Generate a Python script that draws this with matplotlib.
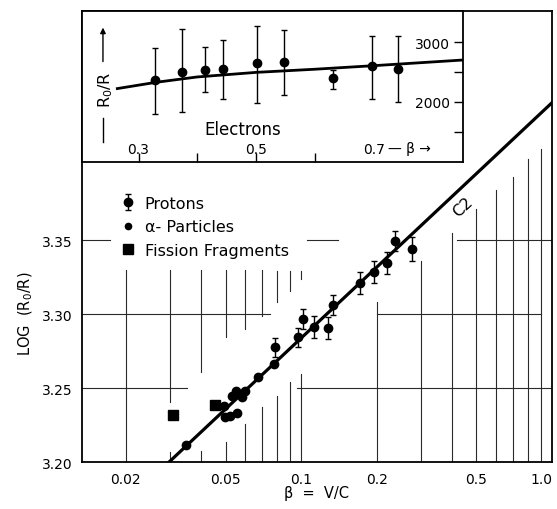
import matplotlib
matplotlib.use('Agg')
import matplotlib.pyplot as plt
from matplotlib.ticker import NullLocator

# ---------------- main panel data ----------------
proton_beta = [0.0788, 0.0976, 0.1021, 0.1130, 0.1277, 0.1337, 0.1718, 0.196, 0.2208, 0.2368, 0.276]
proton_logR = [3.2775, 3.2843, 3.2967, 3.2911, 3.2906, 3.3064, 3.3210, 3.3286, 3.3345, 3.3492, 3.3440]
proton_err = [0.0066, 0.0064, 0.0068, 0.0074, 0.0074, 0.0068, 0.0074, 0.0074, 0.0074, 0.0068, 0.0081]

alpha_beta = [0.0348, 0.0498, 0.0522, 0.0557, 0.0495, 0.0530, 0.0551, 0.0580, 0.0598, 0.0676, 0.0780]
alpha_logR = [3.2115, 3.2302, 3.2313, 3.2331, 3.2381, 3.2444, 3.2482, 3.2437, 3.2478, 3.2573, 3.2662]

fission_beta = [0.0308, 0.0454]
fission_logR = [3.2318, 3.2385]

c2_beta = [0.0298, 1.0]
c2_logR = [3.20, 3.443]

x_ticks = [0.02, 0.05, 0.1, 0.2, 0.5, 1.0]
x_ticklabels = ['0.02', '0.05', '0.1', '0.2', '0.5', '1.0']
y_ticks = [3.20, 3.25, 3.30, 3.35]
y_ticklabels = ['3.20', '3.25', '3.30', '3.35']

# ---------------- inset (electrons) data ----------------
e_beta = [0.3285, 0.374, 0.413, 0.4438, 0.501, 0.5465, 0.6295, 0.696, 0.740]
e_R = [2366, 2508, 2536, 2547, 2661, 2666, 2395, 2603, 2547]
e_top = [2903, 3225, 2932, 3044, 3271, 3214, 2536, 3102, 3102]
e_bot = [1802, 1830, 2170, 2056, 1983, 2112, 2214, 2044, 2000]

e_curve_beta = [0.264, 0.33, 0.40, 0.50, 0.60, 0.70, 0.851]
e_curve_R = [2224, 2330, 2420, 2497, 2550, 2610, 2705]

in_x_ticks = [0.3, 0.4, 0.5, 0.6, 0.7]
in_x_ticklabels = ['0.3', '', '0.5', '', '0.7']
in_y_ticks = [1500, 2000, 2500, 3000]
in_y_ticklabels = ['', '2000', '', '3000']

# partial grid segments (layout of the original hand-drawn grid)
vgrid = [(0.02, 3.330, 3.20), (0.03, 3.330, 3.2405), (0.03, 3.2068, 3.20),
         (0.04, 3.330, 3.261), (0.04, 3.2074, 3.20), (0.05, 3.330, 3.2845), (0.05, 3.2135, 3.20),
         (0.06, 3.330, 3.290), (0.06, 3.2257, 3.20), (0.07, 3.330, 3.2986), (0.07, 3.2372, 3.20),
         (0.08, 3.329, 3.308), (0.08, 3.2446, 3.20), (0.09, 3.329, 3.3155), (0.09, 3.2541, 3.20),
         (0.1, 3.329, 3.3236), (0.1, 3.2595, 3.20), (0.2, 3.308, 3.20), (0.3, 3.336, 3.20),
         (0.4, 3.355, 3.20), (0.5, 3.371, 3.20), (0.6, 3.384, 3.20), (0.7, 3.393, 3.20),
         (0.8, 3.405, 3.20), (0.9, 3.412, 3.20)]
hgrid = [(3.35, 0.0134, 0.0173), (3.35, 0.1057, 0.1404), (3.35, 0.417, 1.0),
         (3.30, 0.0134, 0.075), (3.30, 0.2, 0.9),
         (3.25, 0.0134, 0.035), (3.25, 0.0964, 1.0)]

plt.rcParams['font.family'] = ['DejaVu Sans']

fig = plt.figure(figsize=(5.57, 5.10), dpi=100)
W, H = 557.0, 510.0
ax = fig.add_axes([82 / W, 1 - 463 / H, 470 / W, 451 / H])
ax.set_xscale('log')
ax.set_xlim(0.0134, 1.0)
ax.set_ylim(3.20, 3.505)

gcol = '#2a2a2a'
for b, l0, l1 in vgrid:
    ax.plot([b, b], [l0, l1], color=gcol, lw=0.8, zorder=1)
for l, b0, b1 in hgrid:
    ax.plot([b0, b1], [l, l], color=gcol, lw=0.8, zorder=1)

ax.plot(c2_beta, c2_logR, color='black', lw=2.3, zorder=3)
h_p = ax.errorbar(proton_beta, proton_logR, yerr=proton_err, fmt='o', ms=6, color='black',
                  ecolor='black', elinewidth=1.0, capsize=2.5, capthick=1.0, zorder=4,
                  label='Protons')
ax.plot(alpha_beta, alpha_logR, 'o', ms=6, color='black', linestyle='none', zorder=4)
h_a, = ax.plot([], [], 'o', ms=4.5, color='black', linestyle='none', label='α- Particles')
h_f, = ax.plot(fission_beta, fission_logR, 's', ms=7, color='black', linestyle='none', zorder=4,
               label='Fission Fragments')

ax.text(0.442, 3.373, 'C2', rotation=43, ha='center', va='center', fontsize=11.5)

leg = ax.legend(handles=[h_p, h_a, h_f], loc='upper left', bbox_to_anchor=(0.08, 0.590),
                frameon=False, handlelength=1.0, handletextpad=0.58, borderpad=0,
                borderaxespad=0, labelspacing=0.52, fontsize=11.5)

ax.set_xticks(x_ticks)
ax.set_xticklabels(x_ticklabels)
ax.xaxis.set_minor_locator(NullLocator())
ax.set_yticks(y_ticks)
ax.set_yticklabels(y_ticklabels)
ax.tick_params(axis='x', length=0, pad=7, labelsize=10)
ax.tick_params(axis='y', length=0, pad=7, labelsize=10)
ax.get_xticklabels()[-1].set_ha('right')
for s in ax.spines.values():
    s.set_linewidth(1.3)

ax.set_xlabel('β  =  V/C', fontsize=10.5)
ax.xaxis.set_label_coords(0.5, -0.052)
ax.set_ylabel('LOG  (R$_0$/R)', fontsize=10.5)
ax.yaxis.set_label_coords(-0.100, 0.33)

# ---------------- inset ----------------
axi = fig.add_axes([82 / W, 1 - 163 / H, 381 / W, 151 / H])
axi.set_facecolor('white')
axi.set_xlim(0.204, 0.851)
axi.set_ylim(988, 3530)
axi.plot(e_curve_beta, e_curve_R, color='black', lw=2.0)
yerr = [[r - b for r, b in zip(e_R, e_bot)], [t - r for r, t in zip(e_R, e_top)]]
axi.errorbar(e_beta, e_R, yerr=yerr, fmt='o', ms=6, color='black', ecolor='black',
             elinewidth=1.0, capsize=2.5, capthick=1.0)

axi.set_xticks(in_x_ticks)
axi.set_xticklabels(in_x_ticklabels)
axi.tick_params(axis='x', direction='in', length=6.5, width=1, pad=-14.5, labelsize=10)
axi.xaxis.get_major_ticks()[4].tick1line.set_visible(False)
axi.yaxis.tick_right()
axi.set_yticks(in_y_ticks)
axi.set_yticklabels(in_y_ticklabels)
axi.tick_params(axis='y', direction='in', length=6.5, width=1, pad=-9.5, labelsize=10)
plt.setp(axi.get_yticklabels(), ha='right')
for s in axi.spines.values():
    s.set_linewidth(1.3)

axi.text(0.7237, 0.093, '— β →', transform=axi.get_xaxis_transform(), ha='left',
         va='center', fontsize=10)
axi.text(0.4767, 0.22, 'Electrons', transform=axi.get_xaxis_transform(), ha='center',
         va='center', fontsize=12)
axi.text(0.062, 0.487, 'R$_0$/R', transform=axi.transAxes, rotation=90, ha='center',
         va='center', fontsize=11.5)
axi.annotate('', xy=(0.055, 0.89), xytext=(0.055, 0.665), xycoords='axes fraction',
             arrowprops=dict(arrowstyle='-|>', lw=1.0, color='black', mutation_scale=8,
                             shrinkA=0, shrinkB=0))
axi.plot([0.055, 0.055], [0.133, 0.29], transform=axi.transAxes, color='black', lw=1.0)

fig.savefig('out.png', dpi=100)
